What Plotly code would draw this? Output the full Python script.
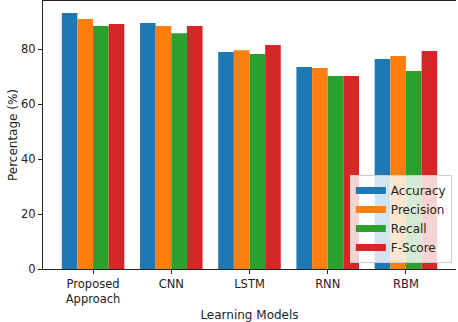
import plotly.graph_objects as go

models = ["Proposed<br>Approach", "CNN", "LSTM", "RNN", "RBM"]
accuracy = [93.2, 89.6, 79.0, 73.6, 76.5]
precision = [91.0, 88.5, 79.7, 73.2, 77.6]
recall = [88.5, 85.9, 78.3, 70.3, 72.1]
fscore = [89.2, 88.5, 81.6, 70.3, 79.4]

series = [("Accuracy", accuracy, "#1f77b4"),
          ("Precision", precision, "#ff7f0e"),
          ("Recall", recall, "#2ca02c"),
          ("F-Score", fscore, "#d62728")]

fig = go.Figure()
for name, vals, col in series:
    fig.add_trace(go.Bar(x=models, y=vals, name=name, marker_color=col,
                         marker_line_width=0, showlegend=False))
# legend entries drawn as thick line swatches (wide patches like the original)
for name, vals, col in series:
    fig.add_trace(go.Scatter(x=[None], y=[None], mode="lines", name=name,
                             line=dict(color=col, width=7)))

fig.update_layout(
    width=458, height=322,
    barmode="group", bargap=0.2, bargroupgap=0,
    plot_bgcolor="white", paper_bgcolor="white",
    margin=dict(l=43, r=2, t=1, b=53, autoexpand=False),
    font=dict(family="DejaVu Sans", size=11.5, color="#222"),
    legend=dict(x=0.99, y=0.022, xanchor="right", yanchor="bottom",
                bgcolor="rgba(255,255,255,0.8)", bordercolor="#cccccc",
                borderwidth=1, font=dict(size=12), itemwidth=30,
                entrywidth=100, entrywidthmode="pixels",
                tracegroupgap=0),
)
fig.update_xaxes(title=dict(text="Learning Models", font=dict(size=12),
                            standoff=6),
                 range=[-0.64, 4.64], automargin=False,
                 showline=True, linecolor="#222", linewidth=1.3, mirror=True,
                 ticks="outside", ticklen=4, tickcolor="#222")
fig.update_yaxes(title=dict(text="Percentage (%)", font=dict(size=12),
                            standoff=0),
                 range=[0, 97.6], tickvals=[0, 20, 40, 60, 80],
                 showgrid=False, zeroline=False, automargin=False,
                 showline=True, linecolor="#222", linewidth=1, mirror=False,
                 ticks="outside", ticklen=4, tickcolor="#222")

# the page body has a default 8px margin; drop it so the figure fills the window
fig.write_html("out.html", config={"displayModeBar": False},
               post_script="document.body.style.margin='0px';")
